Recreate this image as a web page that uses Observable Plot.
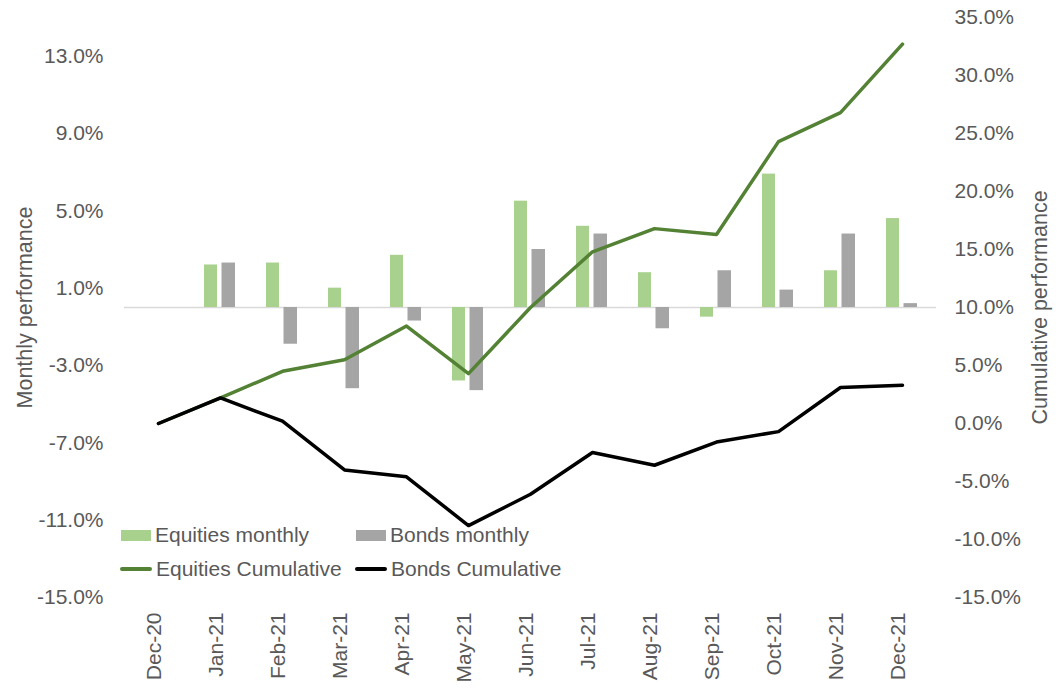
<!DOCTYPE html>
<html>
<head>
<meta charset="utf-8">
<script src="https://cdn.jsdelivr.net/npm/d3@7"></script>
<script src="https://cdn.jsdelivr.net/npm/@observablehq/plot@0.6"></script>
<style>
  html, body { margin: 0; padding: 0; background: #fff; }
  #wrap { position: relative; width: 1064px; height: 688px; font-family: "Liberation Sans", Arial, sans-serif; color: #595959; }
  .leg { position: absolute; display: flex; align-items: center; font-size: 21px; color: #595959; white-space: nowrap; }
  .sw { display: inline-block; margin-right: 4px; }
</style>
</head>
<body>
<div id="wrap"></div>
<script>
const months = ["Dec-20","Jan-21","Feb-21","Mar-21","Apr-21","May-21","Jun-21","Jul-21","Aug-21","Sep-21","Oct-21","Nov-21","Dec-21"];
const equitiesMonthly = [null, 2.2, 2.3, 1.0, 2.7, -3.8, 5.5, 4.2, 1.8, -0.5, 6.9, 1.9, 4.6];
const bondsMonthly = [null, 2.3, -1.9, -4.2, -0.7, -4.3, 3.0, 3.8, -1.1, 1.9, 0.9, 3.8, 0.2];
const equitiesCumulative = [0, 2.2, 4.5, 5.5, 8.4, 4.3, 10.0, 14.8, 16.8, 16.3, 24.3, 26.8, 32.7];
const bondsCumulative = [0, 2.2, 0.2, -4.0, -4.6, -8.8, -6.1, -2.5, -3.6, -1.6, -0.7, 3.1, 3.3];
const leftTicks = [-15, -11, -7, -3, 1, 5, 9, 13];
const rightTicks = [-15, -10, -5, 0, 5, 10, 15, 20, 25, 30, 35];
const leftDomain = [-15, 15];
const rightDomain = [-15, 35];

// map right-axis (cumulative) values onto the left (monthly) scale
const toLeft = c => leftDomain[0] + (c - rightDomain[0]) * (leftDomain[1] - leftDomain[0]) / (rightDomain[1] - rightDomain[0]);
const toRight = v => rightDomain[0] + (v - leftDomain[0]) * (rightDomain[1] - rightDomain[0]) / (leftDomain[1] - leftDomain[0]);

const rows = months.map((m, i) => ({
  month: m,
  eq: equitiesMonthly[i],
  bd: bondsMonthly[i],
  eqC: toLeft(equitiesCumulative[i]),
  bdC: toLeft(bondsCumulative[i])
}));

const pct = v => v.toFixed(1) + "%";

const chart = Plot.plot({
  width: 1064,
  height: 688,
  marginLeft: 124,
  marginRight: 128,
  marginTop: 17,
  marginBottom: 91,
  style: { fontFamily: "Liberation Sans, Arial, sans-serif", fontSize: "21px", color: "#595959", background: "#fff" },
  x: { type: "band", domain: months, padding: 0, axis: null },
  y: { domain: leftDomain, axis: null },
  marks: [
    Plot.ruleY([0], { stroke: "#D9D9D9", strokeWidth: 1.5 }),
    Plot.barY(rows, { x: "month", y: d => d.eq, fill: "#A9D18E", insetLeft: 15, insetRight: 34 }),
    Plot.barY(rows, { x: "month", y: d => d.bd, fill: "#A5A5A5", insetLeft: 32.5, insetRight: 16 }),
    Plot.lineY(rows, { x: "month", y: "eqC", stroke: "#548235", strokeWidth: 3.5 }),
    Plot.lineY(rows, { x: "month", y: "bdC", stroke: "#000000", strokeWidth: 3.5 }),
    Plot.axisY(leftTicks, { anchor: "left", tickSize: 0, tickPadding: 21, tickFormat: pct, label: null, fontSize: 21 }),
    Plot.axisY(rightTicks.map(toLeft), { anchor: "right", tickSize: 0, tickPadding: 18, tickFormat: v => pct(toRight(v)), label: null, fontSize: 21 }),
    Plot.axisX({ anchor: "bottom", tickSize: 0, tickPadding: 15, tickRotate: -90, dx: -4, label: null, fontSize: 21 }),
    Plot.text(["Monthly performance"], { frameAnchor: "left", textAnchor: "middle", dx: -99, rotate: -90, fontSize: 21.5, fill: "#595959" }),
    Plot.text(["Cumulative performance"], { frameAnchor: "right", textAnchor: "middle", dx: 104, rotate: -90, fontSize: 21.5, fill: "#595959" })
  ]
});

const wrap = document.getElementById("wrap");
wrap.appendChild(chart);

const legendItems = [
  { label: "Equities monthly", color: "#A9D18E", kind: "bar", left: 121, top: 535 },
  { label: "Bonds monthly", color: "#A5A5A5", kind: "bar", left: 356, top: 535 },
  { label: "Equities Cumulative", color: "#548235", kind: "line", left: 120, top: 569 },
  { label: "Bonds Cumulative", color: "#000000", kind: "line", left: 355, top: 569 }
];
for (const it of legendItems) {
  const d = document.createElement("div");
  d.className = "leg";
  d.style.left = it.left + "px";
  d.style.top = (it.top - 12) + "px";
  d.style.height = "24px";
  const sw = document.createElement("span");
  sw.className = "sw";
  sw.style.width = (it.kind === "bar" ? 30 : 32) + "px";
  sw.style.height = (it.kind === "bar" ? 11 : 3.5) + "px";
  sw.style.background = it.color;
  if (it.kind === "line") sw.style.borderRadius = "2px";
  d.appendChild(sw);
  const t = document.createElement("span");
  t.textContent = it.label;
  d.appendChild(t);
  wrap.appendChild(d);
}
</script>
</body>
</html>
